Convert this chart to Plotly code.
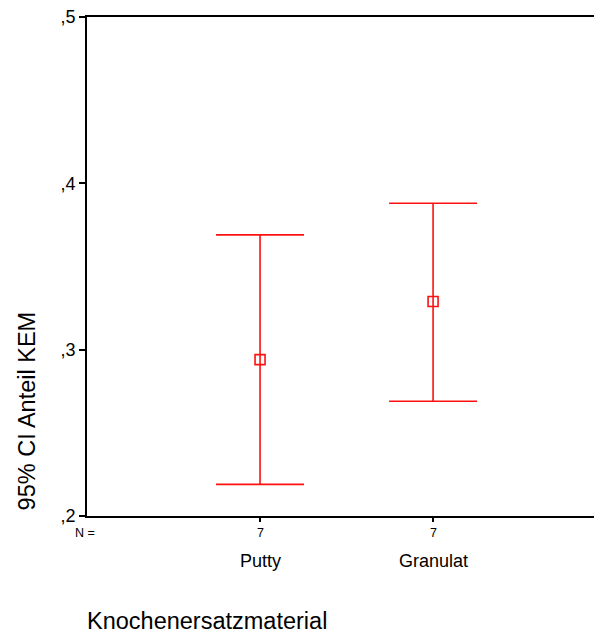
import plotly.graph_objects as go

categories = ["Putty", "Granulat"]
means = [0.294, 0.329]
upper = [0.369, 0.388]
lower = [0.219, 0.269]
counts = [7, 7]
x_pos = [0, 1]

red = "#ff1010"
font = "Liberation Sans, Arial, sans-serif"

fig = go.Figure()
fig.add_trace(go.Scatter(
    x=x_pos, y=means, mode="markers",
    marker=dict(symbol="square-open", size=10, color=red, line=dict(width=1.6, color=red)),
    error_y=dict(type="data", symmetric=False,
                 array=[u - m for u, m in zip(upper, means)],
                 arrayminus=[m - l for m, l in zip(means, lower)],
                 color=red, thickness=1.6, width=44),
    showlegend=False,
    hoverinfo="skip",
))

fig.update_layout(
    width=594, height=637,
    margin=dict(l=87, r=0, t=17, b=121),
    paper_bgcolor="white", plot_bgcolor="white",
    font=dict(family=font, color="black"),
    xaxis=dict(range=[-1, 1.93], showgrid=False, zeroline=False,
               showline=True, linecolor="black", linewidth=2, mirror=True,
               tickvals=x_pos, ticktext=[str(c) for c in counts],
               ticks="outside", ticklen=4, tickwidth=1.5, tickcolor="black",
               showticklabels=False),
    yaxis=dict(range=[0.2, 0.5], showgrid=False, zeroline=False,
               showline=True, linecolor="black", linewidth=2,
               tickvals=[0.2, 0.3, 0.4, 0.5], ticktext=[",2", ",3", ",4", ",5"],
               ticks="outside", ticklen=6, tickwidth=1.5, tickcolor="black",
               ticklabelstandoff=0,
               tickfont=dict(size=18, family=font)),
)

anns = []
anns.append(dict(text="N =", x=-0.004, y=-0.034, xref="paper", yref="paper",
                 showarrow=False, font=dict(size=12.5), xanchor="center", yanchor="middle"))
for xp, c, cat in zip(x_pos, counts, categories):
    anns.append(dict(text=str(c), x=xp, y=-0.034, xref="x", yref="paper",
                     showarrow=False, font=dict(size=12.5), yanchor="middle"))
    anns.append(dict(text=cat, x=xp, y=-0.090, xref="x", yref="paper",
                     showarrow=False, font=dict(size=18), yanchor="middle"))
anns.append(dict(text="Knochenersatzmaterial", x=-0.004, y=-0.21, xref="paper", yref="paper",
                 showarrow=False, font=dict(size=23.5), xanchor="left", yanchor="middle"))
anns.append(dict(text="95% CI Anteil KEM", x=-0.118, y=0.210, xref="paper", yref="paper",
                 showarrow=False, font=dict(size=23.5), textangle=-90,
                 xanchor="center", yanchor="middle"))
fig.update_layout(annotations=anns)

fig.write_html("out.html",
               config={"displayModeBar": False},
               post_script="document.body.style.margin='0';document.documentElement.style.overflow='hidden';")
